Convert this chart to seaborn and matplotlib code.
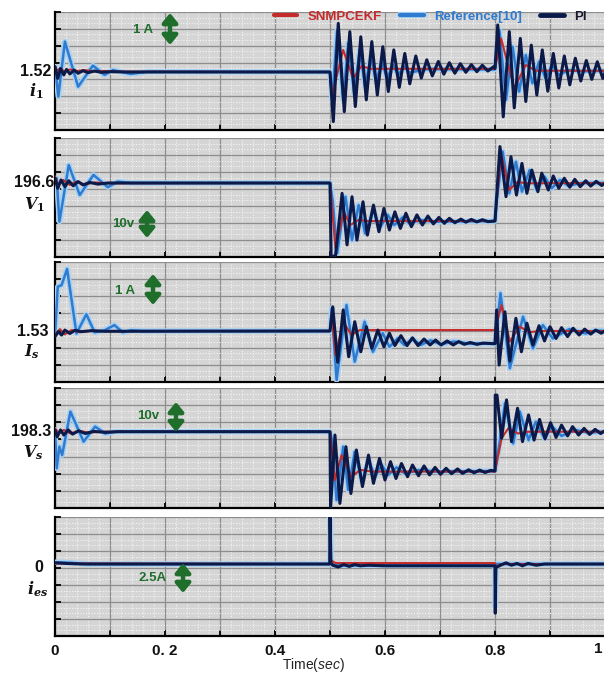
import numpy as np
import matplotlib
matplotlib.use("Agg")
import matplotlib.pyplot as plt
import matplotlib.patheffects as pe
from matplotlib.lines import Line2D
from matplotlib.patches import FancyArrowPatch
from matplotlib.ticker import MultipleLocator, FixedLocator, FuncFormatter
import seaborn as sns

# ---------------- data ----------------
# Panel 1 : i1 (A)
i1_pi_t = [0, 0.005, 0.010, 0.016, 0.021, 0.027, 0.035, 0.042, 0.051, 0.060, 0.072, 0.084, 0.102, 0.13,
           0.500, 0.506, 0.515, 0.526, 0.536, 0.546, 0.556, 0.566, 0.576, 0.586, 0.596, 0.606, 0.616, 0.626,
           0.636, 0.645, 0.656, 0.666, 0.676, 0.686, 0.697, 0.707, 0.717, 0.727, 0.737, 0.747, 0.757, 0.767,
           0.777, 0.787, 0.797, 0.800, 0.805, 0.815, 0.826, 0.835, 0.846, 0.856, 0.866, 0.876, 0.886, 0.896,
           0.906, 0.916, 0.926, 0.936, 0.946, 0.956, 0.966, 0.976, 0.986, 0.996, 1.0]
i1_pi_v = [1.69, 1.32, 1.63, 1.43, 1.60, 1.46, 1.58, 1.48, 1.56, 1.50, 1.55, 1.51, 1.53, 1.52,
           1.52, -0.03, 3.04, 0.28, 2.78, 0.44, 2.62, 0.65, 2.47, 0.80, 2.31, 0.91, 2.21, 1.04,
           2.10, 1.15, 2.02, 1.33, 1.90, 1.40, 1.85, 1.45, 1.81, 1.48, 1.78, 1.51, 1.75, 1.53,
           1.73, 1.55, 1.68, 1.63, 2.99, 0.12, 2.78, 0.40, 2.57, 0.60, 2.36, 0.80, 2.21, 0.92,
           2.10, 1.02, 2.02, 1.12, 1.95, 1.24, 1.88, 1.29, 1.84, 1.32, 1.50]
i1_ref_t = [0, 0.006, 0.018, 0.042, 0.069, 0.090, 0.105, 0.138, 0.168,
            0.500, 0.504, 0.513, 0.524, 0.533, 0.544, 0.554, 0.564, 0.574, 0.584, 0.594, 0.604, 0.614,
            0.624, 0.635, 0.644, 0.677, 0.800, 0.808, 0.820, 0.832, 0.844, 0.856, 0.868, 0.880, 0.892,
            0.904, 0.916, 0.934, 0.958, 1.0]
i1_ref_v = [1.69, 0.75, 2.47, 1.06, 1.72, 1.43, 1.58, 1.46, 1.53,
            1.52, 0.65, 2.83, 0.65, 2.42, 0.85, 2.21, 1.06, 2.00, 1.22, 1.84, 1.32, 1.74,
            1.43, 1.69, 1.50, 1.61, 1.60, 2.83, 0.65, 2.31, 0.91, 2.05, 1.17, 1.84, 1.32,
            1.74, 1.43, 1.58, 1.54, 1.56]
i1_sn_t = [0, 0.009, 0.018, 0.027, 0.039, 0.054, 0.072, 0.090, 0.105,
           0.500, 0.503, 0.524, 0.542, 0.557, 0.575, 0.800, 0.811, 0.835, 0.856, 0.874, 1.0]
i1_sn_v = [1.53, 1.63, 1.53, 1.60, 1.55, 1.58, 1.54, 1.55, 1.53,
           1.52, 0.75, 2.21, 1.32, 1.70, 1.62, 1.62, 2.57, 1.01, 1.74, 1.56, 1.56]

# Panel 2 : V1 (V)
v1_pi_t = [0, 0.005, 0.011, 0.018, 0.025, 0.033, 0.042, 0.051, 0.063, 0.078, 0.096,
           0.500, 0.502, 0.510, 0.522, 0.531, 0.540, 0.549, 0.560, 0.568, 0.579, 0.589, 0.598, 0.608,
           0.618, 0.628, 0.638, 0.648, 0.658, 0.668, 0.678, 0.688, 0.698, 0.708, 0.717, 0.727, 0.738,
           0.747, 0.757, 0.767, 0.777, 0.787, 0.799, 0.800, 0.809, 0.820, 0.829, 0.839, 0.849, 0.858,
           0.867, 0.878, 0.885, 0.897, 0.906, 0.916, 0.926, 0.936, 0.945, 0.955, 0.965, 0.974, 0.984,
           0.994, 1.0]
v1_pi_v = [198.3, 194.7, 197.7, 195.3, 197.4, 195.6, 197.1, 195.9, 196.8, 196.2, 196.6,
           196.6, 170.3, 170.6, 192.9, 174.5, 191.7, 176.2, 189.9, 178.0, 188.7, 179.2, 187.5, 179.8,
           186.3, 180.4, 185.8, 181.0, 185.2, 181.6, 184.8, 182.0, 184.3, 182.2, 184.0, 182.4, 183.7,
           182.6, 183.6, 182.7, 183.5, 182.8, 183.0, 183.0, 209.6, 191.7, 206.0, 192.3, 203.6, 192.9,
           201.2, 193.5, 200.1, 194.1, 199.1, 194.7, 198.3, 195.1, 197.9, 195.3, 197.4, 195.5, 197.2,
           195.7, 196.5]
v1_ref_t = [0, 0.003, 0.008, 0.025, 0.045, 0.070, 0.096, 0.114, 0.138,
            0.500, 0.505, 0.513, 0.528, 0.540, 0.552, 0.564, 0.579, 0.590, 0.605, 0.617, 0.632, 0.644,
            0.665, 0.689, 0.800, 0.803, 0.814, 0.826, 0.838, 0.849, 0.863, 0.876, 0.890, 0.903, 0.918,
            0.933, 0.957, 1.0]
v1_ref_v = [196.6, 198.3, 182.8, 203.0, 192.3, 199.5, 195.1, 197.1, 196.6,
            196.6, 190.0, 171.5, 191.7, 176.2, 188.7, 178.6, 187.0, 180.4, 185.2, 181.6, 184.3, 182.2,
            183.4, 182.8, 183.0, 190.0, 207.8, 192.9, 204.2, 193.5, 201.2, 194.1, 198.9, 194.7, 197.7,
            195.6, 196.6, 196.6]
v1_sn_t = [0, 0.006, 0.015, 0.027, 0.039, 0.054, 0.072, 0.096,
           0.500, 0.510, 0.525, 0.537, 0.552, 0.570, 0.800, 0.811, 0.826, 0.841, 0.856, 1.0]
v1_sn_v = [198.9, 195.9, 197.7, 195.9, 197.1, 196.1, 196.8, 196.5,
           196.6, 173.3, 186.4, 181.6, 183.4, 183.0, 183.0, 207.2, 194.1, 197.0, 196.5, 196.6]

# Panel 3 : Is (A)
is_pi_t = [0, 0.006, 0.012, 0.018, 0.027, 0.036, 0.048, 0.066, 0.090,
           0.500, 0.505, 0.514, 0.524, 0.534, 0.545, 0.556, 0.566, 0.576, 0.587, 0.598, 0.608, 0.618,
           0.629, 0.640, 0.650, 0.660, 0.671, 0.682, 0.692, 0.702, 0.713, 0.724, 0.734, 0.744, 0.755,
           0.767, 0.779, 0.797, 0.800, 0.803, 0.8075, 0.818, 0.827, 0.838, 0.848, 0.858, 0.869, 0.880,
           0.890, 0.900, 0.911, 0.921, 0.932, 0.942, 0.953, 0.963, 0.974, 0.983, 0.993, 1.0]
is_pi_v = [1.35, 1.51, 1.40, 1.56, 1.45, 1.55, 1.51, 1.54, 1.52,
           1.53, 2.31, 0.52, 2.21, 0.70, 1.83, 0.86, 1.67, 0.97, 1.56, 1.02, 1.46, 1.06,
           1.38, 1.06, 1.31, 1.06, 1.27, 1.08, 1.24, 1.08, 1.21, 1.08, 1.19, 1.10, 1.16,
           1.10, 1.14, 1.12, 1.12, 2.21, 0.43, 2.15, 0.56, 1.94, 0.86, 1.78, 1.08, 1.70,
           1.21, 1.67, 1.29, 1.64, 1.35, 1.62, 1.40, 1.59, 1.43, 1.56, 1.46, 1.53]
is_ref_t = [0, 0.005, 0.012, 0.022, 0.039, 0.057, 0.072, 0.090, 0.108, 0.123, 0.138, 0.160,
            0.500, 0.503, 0.512, 0.530, 0.545, 0.563, 0.578, 0.596, 0.608, 0.623, 0.635, 0.650, 0.665,
            0.683, 0.701, 0.725, 0.755, 0.797, 0.800, 0.810, 0.827, 0.851, 0.869, 0.887, 0.905, 0.935,
            0.965, 0.983, 1.0]
is_ref_v = [1.40, 2.96, 3.01, 3.53, 1.45, 2.07, 1.49, 1.55, 1.72, 1.49, 1.55, 1.53,
            1.53, 2.26, -0.05, 2.37, 0.54, 1.83, 0.86, 1.46, 1.02, 1.29, 1.08, 1.27, 1.08,
            1.23, 1.10, 1.19, 1.12, 1.12, 1.12, 2.75, 0.33, 1.99, 0.97, 1.72, 1.29, 1.59,
            1.45, 1.55, 1.53]
is_sn_t = [0, 0.009, 0.018, 0.030, 0.045, 0.066, 0.090,
           0.500, 0.503, 0.510, 0.524, 0.539, 0.554, 0.800, 0.812, 0.827, 0.845, 0.863, 0.881, 1.0]
is_sn_v = [1.40, 1.59, 1.42, 1.56, 1.49, 1.54, 1.53,
           1.53, 2.10, 0.76, 1.83, 1.40, 1.56, 1.56, 2.37, 1.19, 1.67, 1.49, 1.53, 1.53]

# Panel 4 : Vs (V)
vs_pi_t = [0, 0.004, 0.010, 0.016, 0.024, 0.032, 0.043, 0.055, 0.070, 0.091, 0.115,
           0.500, 0.501, 0.509, 0.518, 0.529, 0.538, 0.548, 0.559, 0.570, 0.579, 0.590, 0.600, 0.610,
           0.620, 0.630, 0.641, 0.650, 0.661, 0.671, 0.681, 0.691, 0.701, 0.711, 0.721, 0.732, 0.741,
           0.752, 0.762, 0.772, 0.782, 0.792, 0.800, 0.8005, 0.8036, 0.812, 0.821, 0.830, 0.841, 0.850,
           0.861, 0.871, 0.881, 0.891, 0.901, 0.911, 0.921, 0.932, 0.941, 0.952, 0.962, 0.972, 0.982,
           0.992, 1.0]
vs_pi_v = [198.9, 196.6, 198.9, 197.2, 198.9, 197.5, 198.6, 197.7, 198.4, 198.1, 198.3,
           198.3, 172.7, 197.2, 174.4, 193.3, 177.7, 192.2, 180.0, 190.5, 181.1, 189.4, 182.2, 188.3,
           182.7, 187.7, 183.3, 187.2, 183.6, 186.9, 183.9, 186.4, 184.1, 186.1, 184.3, 185.9, 184.4,
           185.6, 184.6, 185.5, 184.7, 185.4, 185.2, 210.5, 210.5, 196.1, 208.9, 195.0, 206.1, 195.0,
           203.9, 195.5, 202.4, 195.9, 201.3, 196.4, 200.5, 196.9, 200.0, 197.2, 199.4, 197.4, 199.1,
           197.7, 198.6]
vs_ref_t = [0, 0.003, 0.008, 0.013, 0.028, 0.052, 0.073, 0.091, 0.109,
            0.500, 0.503, 0.512, 0.524, 0.533, 0.545, 0.558, 0.570, 0.582, 0.594, 0.606, 0.621, 0.636,
            0.661, 0.697, 0.800, 0.809, 0.818, 0.833, 0.845, 0.861, 0.874, 0.890, 0.904, 0.921, 0.945,
            0.970, 1.0]
vs_ref_v = [198.9, 186.1, 193.3, 190.5, 205.0, 195.0, 200.0, 197.7, 198.3,
            198.3, 196.0, 175.5, 193.3, 178.9, 191.6, 181.6, 188.9, 183.3, 187.2, 183.9, 186.4, 184.4,
            185.5, 185.0, 185.2, 195.5, 207.7, 194.4, 205.0, 195.5, 201.6, 196.1, 200.0, 196.9, 198.9,
            198.0, 198.3]
vs_sn_t = [0, 0.007, 0.016, 0.028, 0.043, 0.061, 0.085,
           0.500, 0.509, 0.521, 0.539, 0.555, 0.576, 0.800, 0.812, 0.824, 0.842, 0.860, 1.0]
vs_sn_v = [199.4, 197.7, 198.9, 197.7, 198.6, 198.0, 198.3,
           198.3, 182.2, 190.5, 183.3, 185.6, 185.0, 185.0, 196.1, 199.4, 197.7, 198.3, 198.3]

# Panel 5 : ies (A)
ies_pi_t = [0, 0.02, 0.05, 0.4995, 0.5, 0.5015, 0.505, 0.515, 0.525, 0.535, 0.545, 0.555, 0.570,
            0.600, 0.800, 0.8005, 0.8015, 0.810, 0.820, 0.830, 0.840, 0.850, 0.860, 0.875, 0.890, 1.0]
ies_pi_v = [0.10, 0.05, 0.0, 0.0, 4.5, 0.10, -0.10, -0.25, -0.05, -0.20, -0.05, -0.15, -0.10,
            -0.15, -0.15, -4.1, -0.30, -0.10, 0.10, -0.10, 0.05, -0.15, 0.05, -0.10, 0.0, 0.0]
ies_ref_t = [0, 0.03, 0.06, 0.500, 0.5005, 0.502, 0.510, 0.800, 0.8005, 0.802, 1.0]
ies_ref_v = [0.15, 0.10, 0.0, 0.0, 4.5, 0.0, -0.10, -0.10, -3.5, 0.0, 0.0]
ies_sn_t = [0, 0.500, 0.502, 0.510, 0.800, 0.802, 0.810, 1.0]
ies_sn_v = [0.05, 0.0, 0.30, 0.08, 0.08, -0.30, 0.0, 0.0]

x_ticks = [0, 0.2, 0.4, 0.6, 0.8, 1.0]
x_tick_labels = ['0', '0. 2', '0.4', '0.6', '0.8', '1']
series_names = ['SNMPCEKF', 'Reference[10]', 'PI']

# ---------------- styling ----------------
SANS = 'Liberation Sans'
sns.set_theme(style="white")
plt.rcParams['font.family'] = [SANS, 'DejaVu Sans']
plt.rcParams['mathtext.fontset'] = 'custom'
plt.rcParams['mathtext.it'] = 'DejaVu Serif:italic:bold'
plt.rcParams['mathtext.rm'] = 'DejaVu Serif:bold'
plt.rcParams['mathtext.bf'] = 'DejaVu Serif:bold'
plt.rcParams['mathtext.sf'] = SANS + ':italic'

C_SN = '#c42b2b'
C_REF = '#2f7bd0'
C_REF_HALO = '#a6d0f2'
C_PI = '#0c1a4a'
GREEN = '#1f6e2c'

W, H = 604, 673
fig = plt.figure(figsize=(W / 100, H / 100), dpi=100)

panel_px = [(12, 130), (138, 257), (262, 382), (388, 508), (517, 636)]
left_px, right_px = 55, 605

panels = [
    dict(ylim=(-0.2925, 3.395), base='1.52', var=r'$i_1$',
         lab_y=72, var_y=91, lab_x=51, var_x=36,
         sn=(i1_sn_t, i1_sn_v), ref=(i1_ref_t, i1_ref_v), pi=(i1_pi_t, i1_pi_v)),
    dict(ylim=(170.17, 212.67), base='196.6', var=r'$V_1$',
         lab_y=183, var_y=205, lab_x=54, var_x=34,
         sn=(v1_sn_t, v1_sn_v), ref=(v1_ref_t, v1_ref_v), pi=(v1_pi_t, v1_pi_v)),
    dict(ylim=(-0.115, 3.756), base='1.53', var=r'$I_s$',
         lab_y=331, var_y=352, lab_x=48, var_x=32,
         sn=(is_sn_t, is_sn_v), ref=(is_ref_t, is_ref_v), pi=(is_pi_t, is_pi_v)),
    dict(ylim=(172.87, 212.87), base='198.3', var=r'$V_s$',
         lab_y=432, var_y=453, lab_x=51, var_x=33,
         sn=(vs_sn_t, vs_sn_v), ref=(vs_ref_t, vs_ref_v), pi=(vs_pi_t, vs_pi_v)),
    dict(ylim=(-6.0, 3.92), base='0', var=r'$i_{es}$',
         lab_y=567, var_y=589, lab_x=43, var_x=38,
         sn=(ies_sn_t, ies_sn_v), ref=(ies_ref_t, ies_ref_v), pi=(ies_pi_t, ies_pi_v)),
]

arrows = [  # label, label centre x, y, arrow x, y_top, y_bottom (image pixels)
    ('1 A', 143, 30, 170, 13, 45),
    ('10v', 123, 224, 147, 210, 238),
    ('1 A', 125, 291, 153, 274, 305),
    ('10v', 148, 416, 176, 402, 432),
    ('2.5A', 153, 578, 183, 563, 593),
]

tick_map = {round(x, 1): s for x, s in zip(x_ticks, x_tick_labels) if x < 1.0}

axes = []
for i, (p, (top, bot)) in enumerate(zip(panels, panel_px)):
    ax = fig.add_axes([left_px / W, 1 - bot / H, (right_px - left_px) / W, (bot - top) / H])
    axes.append(ax)
    ax.set_facecolor('#d5d5d5')
    lo, hi = p['ylim']

    # series: reference (with halo), SNMPCEKF, PI
    sns.lineplot(x=p['ref'][0], y=p['ref'][1], ax=ax, color=C_REF, linewidth=1.8,
                 estimator=None, sort=False, legend=False, zorder=3,
                 path_effects=[pe.Stroke(linewidth=4.0, foreground=C_REF_HALO), pe.Normal()])
    sns.lineplot(x=p['sn'][0], y=p['sn'][1], ax=ax, color=C_SN, linewidth=1.5,
                 estimator=None, sort=False, legend=False, zorder=4)
    sns.lineplot(x=p['pi'][0], y=p['pi'][1], ax=ax, color=C_PI, linewidth=2.2,
                 estimator=None, sort=False, legend=False, zorder=5)

    ax.set_xlim(0, 1.0)
    ax.set_ylim(lo, hi)
    ax.set_xlabel('')
    ax.set_ylabel('')
    ax.xaxis.set_major_locator(MultipleLocator(0.1))
    ax.xaxis.set_minor_locator(MultipleLocator(0.02))
    ax.yaxis.set_major_locator(FixedLocator(np.linspace(lo, hi, 8)))
    ax.yaxis.set_minor_locator(FixedLocator(np.linspace(lo, hi, 22)))
    ax.set_axisbelow(True)
    ax.grid(which='minor', color='#f4f4f4', lw=0.8, ls=(0, (1, 1.5)))
    ax.grid(which='major', color='#8d8d8d', lw=0.9)
    for s in ['top', 'right']:
        ax.spines[s].set_visible(False)
    for s in ['left', 'bottom']:
        ax.spines[s].set_color('black')
        ax.spines[s].set_linewidth(1.6)
    ax.tick_params(which='major', direction='in', length=4, width=1.3, color='black',
                   left=True, bottom=True, labelleft=False)
    ax.tick_params(which='minor', length=0)

    if i < 4:
        ax.tick_params(labelbottom=False)
    else:
        ax.xaxis.set_major_formatter(FuncFormatter(lambda v, pos: tick_map.get(round(v, 1), '')))
        ax.tick_params(axis='x', labelsize=11, pad=6, labelcolor='#111111')
        for lbl in ax.get_xticklabels():
            lbl.set_fontweight('bold')

    # value label and variable name
    fig.text(p['lab_x'] / W, 1 - p['lab_y'] / H, p['base'], ha='right', va='center',
             fontsize=11.5, fontweight='bold', color='#111111')
    fig.text(p['var_x'] / W, 1 - p['var_y'] / H, p['var'], ha='center', va='center',
             fontsize=11.5, color='#111111')

# last x tick label "1" sits at the right edge, kept inside the picture
fig.text(598 / W, 1 - 649 / H, x_tick_labels[-1], ha='center', va='center',
         fontsize=11, fontweight='bold', color='#111111')
for lbl in axes[-1].get_xticklabels():
    lbl.set_fontweight('bold')

fig.text(313 / W, 1 - 665 / H, r'Time($\mathsf{sec}$)', ha='center', va='center',
         fontsize=10, color='#222222')

# scale arrows
for (txt, tx, ty, axx, y1, y2) in arrows:
    fig.text(tx / W, 1 - ty / H, txt, ha='center', va='center', fontsize=9.5,
             fontweight='bold', color=GREEN)
    arr = FancyArrowPatch((axx / W, 1 - y2 / H), (axx / W, 1 - y1 / H),
                          transform=fig.transFigure,
                          arrowstyle='<|-|>,head_length=0.55,head_width=0.45',
                          mutation_scale=10, lw=3.2, color=GREEN, shrinkA=0, shrinkB=0,
                          zorder=10)
    fig.add_artist(arr)

# legend
handles = [Line2D([], [], color=C_SN, lw=3),
           Line2D([], [], color=C_REF, lw=3,
                  path_effects=[pe.Stroke(linewidth=4.5, foreground=C_REF_HALO), pe.Normal()]),
           Line2D([], [], color=C_PI, lw=3.5)]
leg = axes[0].legend(handles, series_names, loc='center', ncol=3, frameon=False,
                     bbox_to_anchor=(430 / W, 1 - 17 / H), bbox_transform=fig.transFigure,
                     prop=dict(family=SANS, weight='bold', size=9.5), handlelength=1.8,
                     handletextpad=0.75, columnspacing=1.4, borderaxespad=0, borderpad=0)
for txt, col in zip(leg.get_texts(), [C_SN, C_REF, '#1a1a2e']):
    txt.set_color(col)

fig.savefig('out.png', dpi=100, facecolor='white')
